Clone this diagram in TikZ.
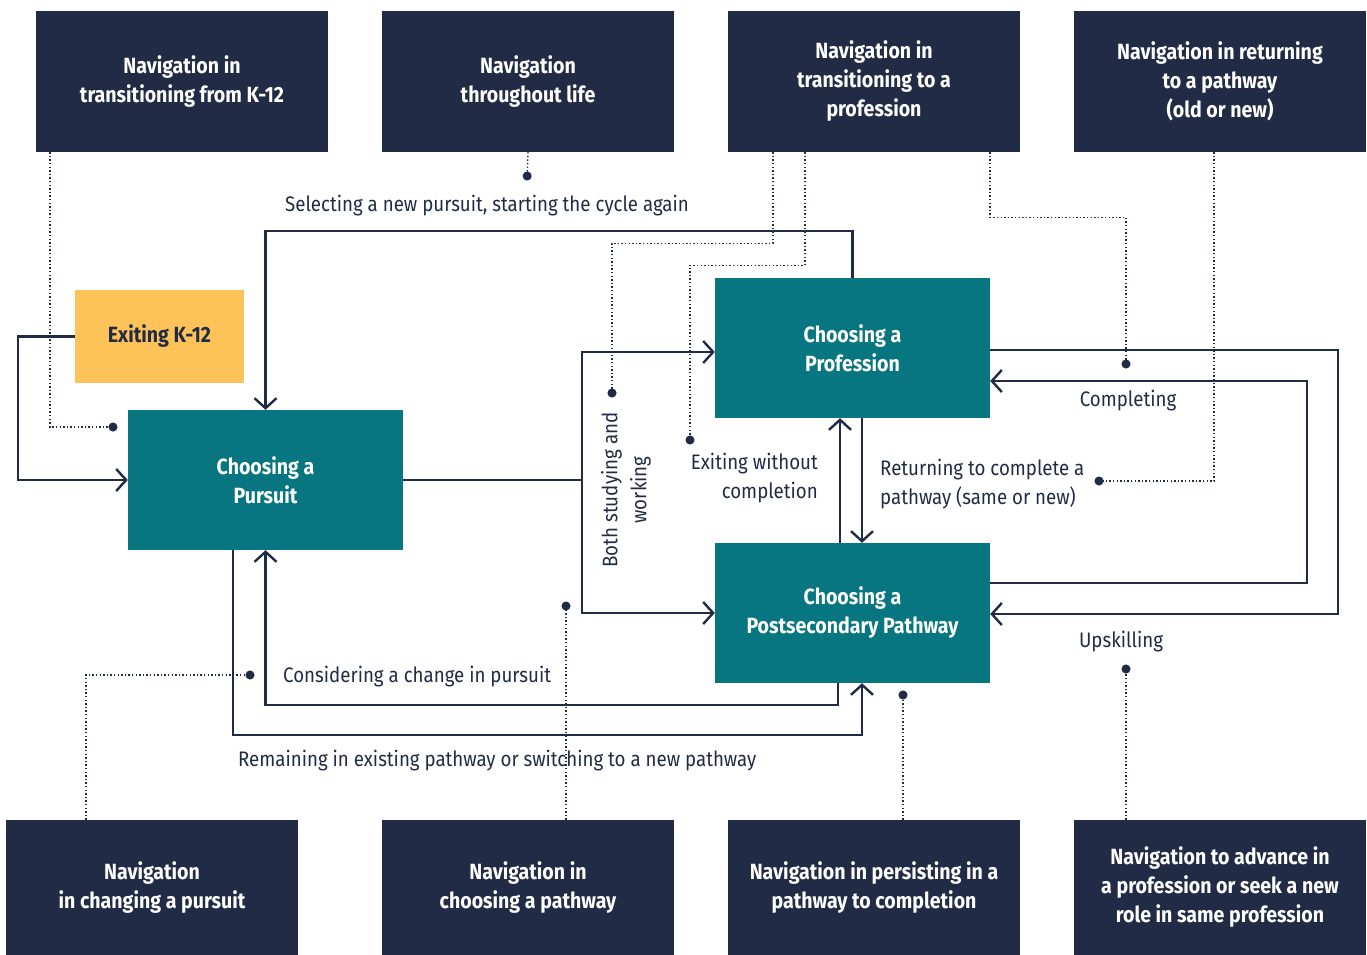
\documentclass[tikz,border=0pt]{standalone}
\usepackage{fontspec}
\setmainfont{Fira Sans}[FakeStretch=0.89]
\usetikzlibrary{arrows.meta}
\definecolor{navy}{HTML}{222B45}
\definecolor{teal}{HTML}{087680}
\definecolor{sun}{HTML}{FDC358}

\tikzset{
  navbox/.style={fill=navy, text=white, font=\bfseries\fontsize{22}{29}\selectfont,
    minimum width=292pt, align=center, inner sep=0pt},
  stagebox/.style={fill=teal, text=white, font=\bfseries\fontsize{22}{29}\selectfont,
    minimum width=275pt, minimum height=140pt, align=center, inner sep=0pt},
  flow/.style={draw=navy, line width=2.4pt, -{Straight Barb[length=10pt,width=22pt]}},
  link/.style={draw=navy, line width=2.4pt},
  hint/.style={draw=navy, line width=1.4pt, dash pattern=on 1.4pt off 2.2pt,
    -{Circle[length=9pt]}},
  lbl/.style={text=navy, font=\fontsize{21}{29}\selectfont, inner sep=0pt}
}

\begin{document}
\begin{tikzpicture}[x=1pt, y=-1pt]
\useasboundingbox (0,0) rectangle (1367,955);

% navigation boxes
\node[navbox, minimum height=141pt] (navK12) at (182,81.5) {Navigation in\\transitioning from K-12};
\node[navbox, minimum height=141pt] (navLife) at (528,81.5) {Navigation\\throughout life};
\node[navbox, minimum height=141pt] (navProf) at (874,81.5) {Navigation in\\transitioning to a\\profession};
\node[navbox, minimum height=141pt] (navReturn) at (1220,81.5) {Navigation in returning\\to a pathway\\(old or new)};
\node[navbox, minimum height=135pt] (navChange) at (152,887.5) {Navigation\\in changing a pursuit};
\node[navbox, minimum height=135pt] (navPathway) at (528,887.5) {Navigation in\\choosing a pathway};
\node[navbox, minimum height=135pt] (navPersist) at (874,887.5) {Navigation in persisting in a\\pathway to completion};
\node[navbox, minimum height=135pt] (navAdvance) at (1220,887.5) {Navigation to advance in\\a profession or seek a new\\role in same profession};

% stages
\node[fill=sun, text=navy, font=\bfseries\fontsize{22}{29}\selectfont, minimum width=169pt,
  minimum height=93pt, inner sep=0pt] (exitK12) at (159.5,336.5) {Exiting K-12};
\node[stagebox] (pursuit) at (265.5,480) {Choosing a\\Pursuit};
\node[stagebox] (profession) at (852.5,348) {Choosing a\\Profession};
\node[stagebox] (pathway) at (852.5,613) {Choosing a\\Postsecondary Pathway};

% dot ends of the navigation hints
\coordinate (dotK12) at (117.5,427);
\coordinate (dotLife) at (527,180.5);
\coordinate (dotBoth) at (612,397.5);
\coordinate (dotExit) at (690,444.5);
\coordinate (dotCompl) at (1126,368.5);
\coordinate (dotReturn) at (1094.5,481);
\coordinate (dotChange) at (254.5,675);
\coordinate (dotPathway) at (566,601.5);
\coordinate (dotPersist) at (903,690.5);
\coordinate (dotUpskill) at (1126,664.5);
\coordinate (split) at (582,480);

% flows
\draw[flow] (exitK12.west) -- ++(-57,0) |- (pursuit.west);
\draw[flow] (profession.north) -- ++(0,-47) -| (pursuit.north);
\draw[link] (pursuit.east) -- (split);
\draw[flow] (split) |- ([yshift=-4pt]profession.west);
\draw[flow] (split) |- (pathway.west);
\draw[flow] ([xshift=-12.5pt]pathway.north) -- ([xshift=-12.5pt]profession.south);
\draw[flow] ([xshift=9.5pt]profession.south) -- ([xshift=9.5pt]pathway.north);
\draw[flow] ([yshift=30pt]pathway.east) -- ++(317,0) |- ([yshift=-33pt]profession.east);
\draw[flow] ([yshift=-2pt]profession.east) -- ++(348,0) |- ([yshift=-1pt]pathway.east);
\draw[flow] ([xshift=-14.5pt]pathway.south) -- ++(0,22) -| (pursuit.south);
\draw[flow] ([xshift=-32.5pt]pursuit.south) -- ++(0,185) -| ([xshift=9.5pt]pathway.south);

% hints
\draw[hint] ([xshift=-132pt]navK12.south) |- (dotK12);
\draw[hint] (navLife.south) -- (dotLife);
\draw[hint] ([xshift=-101pt]navProf.south) -- ++(0,91) -| (dotBoth);
\draw[hint] ([xshift=-69pt]navProf.south) -- ++(0,113) -| (dotExit);
\draw[hint] ([xshift=116pt]navProf.south) -- ++(0,65) -| (dotCompl);
\draw[hint] ([xshift=-6pt]navReturn.south) |- (dotReturn);
\draw[hint] ([xshift=-66pt]navChange.north) |- (dotChange);
\draw[hint] ([xshift=38pt]navPathway.north) -- (dotPathway);
\draw[hint] ([xshift=29pt]navPersist.north) -- (dotPersist);
\draw[hint] ([xshift=-94pt]navAdvance.north) -- (dotUpskill);

% labels
\node[lbl] (lSelect) at (487,206) {Selecting a new pursuit, starting the cycle again};
\node[lbl, rotate=90, align=center] (lBoth) at (626,490) {Both studying and\\working};
\node[lbl, anchor=east, align=right] (lExit) at (818,478) {Exiting without\\completion};
\node[lbl, anchor=west, align=left] (lReturn) at (880,484) {Returning to complete a\\pathway (same or new)};
\node[lbl] (lCompl) at (1128,401) {Completing};
\node[lbl] (lUpskill) at (1121,642) {Upskilling};
\node[lbl, anchor=west] (lChange) at (283,677) {Considering a change in pursuit};
\node[lbl, anchor=west] (lRemain) at (238,761) {Remaining in existing pathway or switching to a new pathway};
\end{tikzpicture}
\end{document}
